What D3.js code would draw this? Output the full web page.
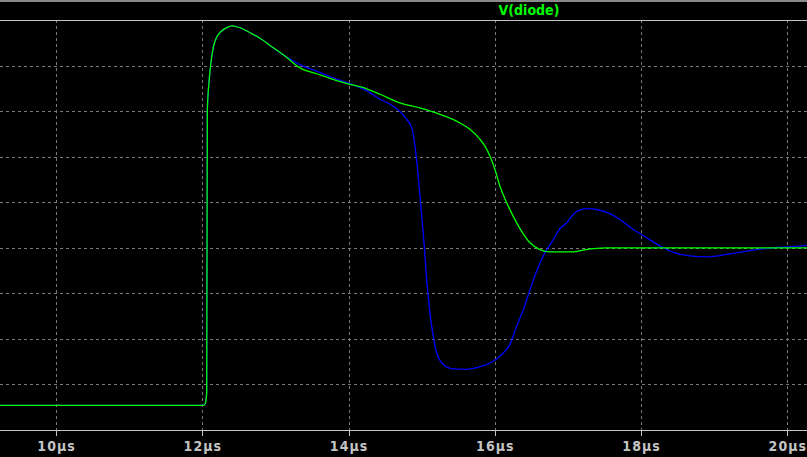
<!DOCTYPE html>
<html lang="en">

<head>
  <meta charset="UTF-8">
  <title>V(diode)</title>
  <script src="https://d3js.org/d3.v7.min.js"></script>
  <style>
    body { margin: 0; background: #000; }
  </style>
</head>

<body>
  <div id="container"></div>

  <script>
    // time in µs, voltage (one division = 1)
    var greenTime = [9.234, 12.024, 12.044, 12.061, 12.069, 12.092, 12.115, 12.151, 12.197, 12.266, 12.334, 12.403,
      12.516, 12.653, 12.789, 12.971, 13.131, 13.336, 13.565, 13.838, 13.993, 14.249, 14.430, 14.704, 14.977,
      15.251, 15.524, 15.661, 15.798, 15.866, 15.935, 16.003, 16.071, 16.163, 16.253, 16.345, 16.482, 16.618,
      16.755, 17.074, 17.210, 17.347, 17.521, 20.27];
    var greenVolt = [-3.46, -3.46, -3.40, -3.18, 3.00, 3.63, 4.02, 4.40, 4.62, 4.76, 4.83, 4.87,
      4.83, 4.72, 4.60, 4.39, 4.21, 3.95, 3.82, 3.67, 3.60, 3.49, 3.37, 3.18, 3.07,
      2.93, 2.74, 2.60, 2.38, 2.23, 2.01, 1.72, 1.35, 0.99, 0.69, 0.42, 0.11, -0.04,
      -0.09, -0.09, -0.05, -0.02, 0, 0];

    var blueTime = [9.234, 12.024, 12.044, 12.061, 12.069, 12.092, 12.115, 12.151, 12.197, 12.266, 12.334, 12.403,
      12.516, 12.653, 12.789, 12.971, 13.131, 13.336, 13.565, 13.838, 13.993, 14.249, 14.430, 14.567, 14.704,
      14.795, 14.872, 14.909, 14.940, 14.977, 15.009, 15.036, 15.069, 15.114, 15.151, 15.206, 15.296, 15.433,
      15.616, 15.798, 15.980, 16.116, 16.208, 16.300, 16.390, 16.482, 16.573, 16.663, 16.800, 16.892, 16.983,
      17.097, 17.257, 17.394, 17.575, 17.712, 17.894, 18.077, 18.259, 18.441, 18.669, 18.898, 19.080, 19.308,
      19.535, 19.808, 19.992, 20.27];
    var blueVolt = [-3.46, -3.46, -3.39, -3.17, 3.00, 3.63, 4.02, 4.40, 4.62, 4.76, 4.83, 4.87,
      4.83, 4.72, 4.60, 4.39, 4.21, 4.02, 3.88, 3.70, 3.62, 3.45, 3.26, 3.15, 2.99,
      2.82, 2.60, 2.23, 1.79, 1.13, 0.55, 0.04, -0.70, -1.43, -1.87, -2.31, -2.56, -2.66,
      -2.67, -2.61, -2.49, -2.31, -2.12, -1.72, -1.36, -0.92, -0.51, -0.18, 0.18, 0.42, 0.55,
      0.77, 0.86, 0.84, 0.75, 0.62, 0.40, 0.22, 0.04, -0.10, -0.18, -0.20, -0.17, -0.11,
      -0.05, 0, 0.02, 0.05];

    var xTicks = [10, 12, 14, 16, 18, 20];
    var yGrid = [-3, -2, -1, 0, 1, 2, 3, 4];
    var title = "V(diode)";

    var width = 807,
      height = 457,
      top_y = 20,
      bottom_y = 430,
      grey = "#c4c4c4",
      grid = "#7a7a7a";

    var svg = d3.select("#container")
      .append("svg")
      .attr("width", width)
      .attr("height", height)
      .style("display", "block")
      .style("background", "#000")

    var x = d3.scaleLinear().domain([9.234, 20.27]).range([0, width]);
    var y = d3.scaleLinear().domain([-4, 5]).range([bottom_y, top_y]);

    // window border at the very top
    svg.append("rect")
      .attr("x", 0).attr("y", 0)
      .attr("width", width).attr("height", 2)
      .attr("fill", "#8a8a8a")

    // dashed grid
    svg.selectAll(".hgrid")
      .data(yGrid)
      .enter()
      .append("line")
      .attr("class", "hgrid")
      .attr("x1", 0).attr("x2", width)
      .attr("y1", d => Math.round(y(d)) + 0.5)
      .attr("y2", d => Math.round(y(d)) + 0.5)
      .attr("stroke", grid)
      .attr("stroke-dasharray", "3,3")
      .attr("shape-rendering", "crispEdges")

    svg.selectAll(".vgrid")
      .data(xTicks)
      .enter()
      .append("line")
      .attr("class", "vgrid")
      .attr("x1", d => Math.round(x(d)) + 0.5)
      .attr("x2", d => Math.round(x(d)) + 0.5)
      .attr("y1", top_y).attr("y2", bottom_y)
      .attr("stroke", grid)
      .attr("stroke-dasharray", "3,3")
      .attr("shape-rendering", "crispEdges")

    // frame lines top and bottom
    svg.selectAll(".frame")
      .data([5, -4])
      .enter()
      .append("line")
      .attr("x1", 0).attr("x2", width)
      .attr("y1", d => Math.round(y(d)) + 0.5)
      .attr("y2", d => Math.round(y(d)) + 0.5)
      .attr("stroke", grey)
      .attr("shape-rendering", "crispEdges")

    // x axis
    var xAxis = d3.axisBottom(x)
      .tickValues(xTicks)
      .tickSize(6)
      .tickPadding(5)
      .tickFormat(d => d + "µs");

    var gx = svg.append("g")
      .attr("transform", "translate(0," + bottom_y + ")")
      .call(xAxis);
    gx.select(".domain").remove();
    gx.selectAll("line").attr("stroke", grey).attr("shape-rendering", "crispEdges");
    gx.selectAll("text")
      .attr("fill", grey)
      .attr("font-family", "'Liberation Sans Narrow', 'DejaVu Sans Condensed', sans-serif")
      .attr("font-weight", "bold")
      .attr("font-size", 14)
      .attr("letter-spacing", 1)

    // traces
    var line = d3.line()
      .x(d => x(d[0]))
      .y(d => y(d[1]))
      .curve(d3.curveMonotoneX);

    svg.append("path")
      .datum(d3.zip(blueTime, blueVolt))
      .attr("d", line)
      .attr("fill", "none")
      .attr("stroke", "#0000ff")
      .attr("stroke-width", 1.3)

    svg.append("path")
      .datum(d3.zip(greenTime, greenVolt))
      .attr("d", line)
      .attr("fill", "none")
      .attr("stroke", "#00ff00")
      .attr("stroke-width", 1.3)

    svg.append("text")
      .attr("x", 529)
      .attr("y", 15)
      .attr("text-anchor", "middle")
      .attr("font-family", "'Liberation Sans Narrow', 'DejaVu Sans Condensed', sans-serif")
      .attr("font-weight", "bold")
      .attr("font-size", 14)
      .attr("fill", "#00ff00")
      .text(title)
  </script>
</body>

</html>
